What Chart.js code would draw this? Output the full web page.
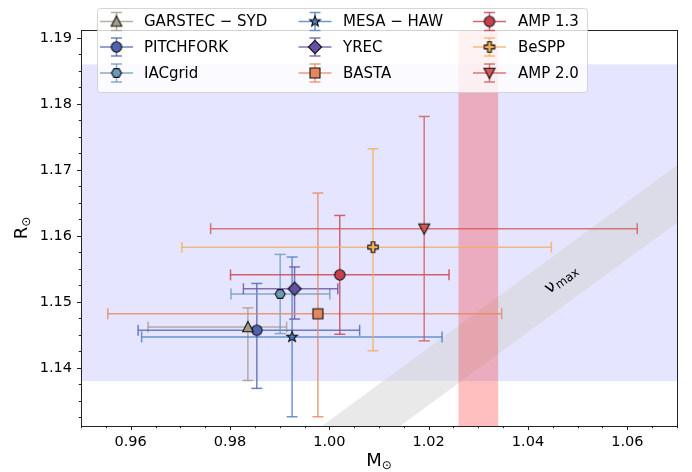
<!DOCTYPE html>
<html>
<head>
<meta charset="utf-8">
<script src="https://cdn.jsdelivr.net/npm/chart.js@4"></script>
<style>
  html, body { margin: 0; padding: 0; background: #fff; }
  canvas { display: block; }
</style>
</head>
<body>
<canvas id="chartMassRadius" width="692" height="472"></canvas>
<script>
// pipelines, in legend order (column by column)
const seriesNames = ["GARSTEC − SYD", "PITCHFORK", "IACgrid", "MESA − HAW", "YREC", "BASTA", "AMP 1.3", "BeSPP", "AMP 2.0"];
const massValues   = [0.9836, 0.9854, 0.9901, 0.9925, 0.9930, 0.9977, 1.0021, 1.0088, 1.0191];
const massErrLow   = [0.0201, 0.0239, 0.0099, 0.0303, 0.0103, 0.0423, 0.0220, 0.0385, 0.0430];
const massErrHigh  = [0.0078, 0.0207, 0.0100, 0.0302, 0.0087, 0.0370, 0.0220, 0.0359, 0.0429];
const radiusValues  = [1.1462, 1.1457, 1.1512, 1.1447, 1.1520, 1.1482, 1.1541, 1.1583, 1.1611];
const radiusErrLow  = [0.0081, 0.0088, 0.0060, 0.0121, 0.0046, 0.0156, 0.0090, 0.0157, 0.0170];
const radiusErrHigh = [0.0029, 0.0071, 0.0060, 0.0121, 0.0033, 0.0183, 0.0090, 0.0149, 0.0170];
const seriesColors = ["#a59c88", "#4f63b0", "#6c9aba", "#4a7cc2", "#6451a4", "#e6865c", "#c8404e", "#f2ad5c", "#d55656"];
const markerShapes = ["triangleUp", "circle", "hexagon", "star", "diamond", "square", "circle", "plus", "triangleDown"];

const xTickValues = [0.96, 0.98, 1.00, 1.02, 1.04, 1.06];
const yTickValues = [1.14, 1.15, 1.16, 1.17, 1.18, 1.19];
const massRange = [0.95, 1.07];
const radiusRange = [1.1312, 1.1912];

// constraint bands
const radiusBand = [1.138, 1.186];
const massBand = [1.026, 1.034];
const numaxBandMass = [0.95, 1.07];
const numaxBandUpper = [1.1044, 1.1707];
const numaxBandLower = [1.0957, 1.1620];

function rgba(hex, a) {
  const n = parseInt(hex.slice(1), 16);
  return `rgba(${n >> 16},${(n >> 8) & 255},${n & 255},${a})`;
}

function makeMarker(shape, fill) {
  const size = 18, c = 9;
  const cv = document.createElement("canvas");
  cv.width = size; cv.height = size;
  const g = cv.getContext("2d");
  g.beginPath();
  if (shape === "circle") {
    g.arc(c, c, 5.2, 0, Math.PI * 2);
  } else if (shape === "triangleUp") {
    g.moveTo(c, c - 5.5); g.lineTo(c + 5.3, c + 4.8); g.lineTo(c - 5.3, c + 4.8); g.closePath();
  } else if (shape === "triangleDown") {
    g.moveTo(c, c + 5.5); g.lineTo(c + 5.5, c - 4.8); g.lineTo(c - 5.5, c - 4.8); g.closePath();
  } else if (shape === "hexagon") {
    for (let k = 0; k < 6; k++) {
      const a = k * Math.PI / 3;
      g.lineTo(c + 5 * Math.cos(a), c + 5 * Math.sin(a));
    }
    g.closePath();
  } else if (shape === "star") {
    for (let k = 0; k < 10; k++) {
      const r = k % 2 ? 2.3 : 5.6;
      const a = -Math.PI / 2 + k * Math.PI / 5;
      g.lineTo(c + r * Math.cos(a), c + r * Math.sin(a));
    }
    g.closePath();
  } else if (shape === "diamond") {
    g.moveTo(c, c - 6.6); g.lineTo(c + 6.6, c); g.lineTo(c, c + 6.6); g.lineTo(c - 6.6, c); g.closePath();
  } else if (shape === "square") {
    g.rect(c - 5, c - 5, 10, 10);
  } else if (shape === "plus") {
    const L = 5.2, t = 1.9;
    g.moveTo(c - t, c - L); g.lineTo(c + t, c - L); g.lineTo(c + t, c - t); g.lineTo(c + L, c - t);
    g.lineTo(c + L, c + t); g.lineTo(c + t, c + t); g.lineTo(c + t, c + L); g.lineTo(c - t, c + L);
    g.lineTo(c - t, c + t); g.lineTo(c - L, c + t); g.lineTo(c - L, c - t); g.lineTo(c - t, c - t);
    g.closePath();
  }
  g.fillStyle = fill;
  g.fill();
  g.lineWidth = 1.1;
  g.strokeStyle = "#111";
  g.stroke();
  return cv;
}

const markers = seriesNames.map((_, i) => makeMarker(markerShapes[i], seriesColors[i]));

function line(ctx, x1, y1, x2, y2) {
  ctx.beginPath(); ctx.moveTo(x1, y1); ctx.lineTo(x2, y2); ctx.stroke();
}

// shaded constraints: radius band, nu_max band, mass band
const bandsPlugin = {
  id: "bands",
  beforeDatasetsDraw(chart) {
    const { ctx, chartArea: a, scales: { x, y } } = chart;
    ctx.save();
    ctx.beginPath(); ctx.rect(a.left, a.top, a.width, a.height); ctx.clip();

    ctx.fillStyle = "rgba(0,0,255,0.1)";
    const yt = y.getPixelForValue(radiusBand[1]), yb = y.getPixelForValue(radiusBand[0]);
    ctx.fillRect(a.left, yt, a.width, yb - yt);

    ctx.fillStyle = "rgba(211,211,211,0.5)";
    ctx.beginPath();
    ctx.moveTo(x.getPixelForValue(numaxBandMass[0]), y.getPixelForValue(numaxBandUpper[0]));
    ctx.lineTo(x.getPixelForValue(numaxBandMass[1]), y.getPixelForValue(numaxBandUpper[1]));
    ctx.lineTo(x.getPixelForValue(numaxBandMass[1]), y.getPixelForValue(numaxBandLower[1]));
    ctx.lineTo(x.getPixelForValue(numaxBandMass[0]), y.getPixelForValue(numaxBandLower[0]));
    ctx.closePath();
    ctx.fill();

    ctx.fillStyle = "rgba(255,0,0,0.25)";
    const xl = x.getPixelForValue(massBand[0]), xr = x.getPixelForValue(massBand[1]);
    ctx.fillRect(xl, a.top, xr - xl, a.height);

    // nu_max label along the band
    const x0 = x.getPixelForValue(numaxBandMass[0]), x1 = x.getPixelForValue(numaxBandMass[1]);
    const y0 = y.getPixelForValue(numaxBandUpper[0]), y1 = y.getPixelForValue(numaxBandUpper[1]);
    const ang = Math.atan2(y1 - y0, x1 - x0);
    const lm = 1.0466;
    const t = (lm - numaxBandMass[0]) / (numaxBandMass[1] - numaxBandMass[0]);
    const mid = (numaxBandUpper[0] + t * (numaxBandUpper[1] - numaxBandUpper[0]) +
                 numaxBandLower[0] + t * (numaxBandLower[1] - numaxBandLower[0])) / 2;
    ctx.translate(x.getPixelForValue(lm), y.getPixelForValue(mid));
    ctx.rotate(ang);
    ctx.fillStyle = "#000";
    ctx.textBaseline = "alphabetic";
    ctx.font = "17px 'DejaVu Sans'";
    const w1 = ctx.measureText("ν").width;
    ctx.font = "12px 'DejaVu Sans'";
    const w2 = ctx.measureText("max").width;
    const sx = -(w1 + w2) / 2;
    ctx.font = "17px 'DejaVu Sans'";
    ctx.fillText("ν", sx, 5);
    ctx.font = "12px 'DejaVu Sans'";
    ctx.fillText("max", sx + w1 + 1, 7);
    ctx.restore();
  }
};

const errorBarPlugin = {
  id: "errorBars",
  beforeDatasetsDraw(chart) {
    const { ctx, scales: { x, y } } = chart;
    const cap = 5.5;
    ctx.save();
    ctx.lineWidth = 1.5;
    seriesNames.forEach((_, i) => {
      const px = x.getPixelForValue(massValues[i]);
      const py = y.getPixelForValue(radiusValues[i]);
      const xl = x.getPixelForValue(massValues[i] - massErrLow[i]);
      const xr = x.getPixelForValue(massValues[i] + massErrHigh[i]);
      const yt = y.getPixelForValue(radiusValues[i] + radiusErrHigh[i]);
      const yb = y.getPixelForValue(radiusValues[i] - radiusErrLow[i]);
      ctx.strokeStyle = rgba(seriesColors[i], 0.8);
      line(ctx, xl, py, xr, py);
      line(ctx, xl, py - cap, xl, py + cap);
      line(ctx, xr, py - cap, xr, py + cap);
      line(ctx, px, yt, px, yb);
      line(ctx, px - cap, yt, px + cap, yt);
      line(ctx, px - cap, yb, px + cap, yb);
    });
    ctx.restore();
  }
};

// frame, tick marks, axis titles and legend
const framePlugin = {
  id: "frame",
  afterDraw(chart) {
    const { ctx, chartArea: a, scales: { x, y } } = chart;
    ctx.save();
    ctx.strokeStyle = "#222";
    ctx.lineWidth = 1;
    for (let v = massRange[0]; v <= massRange[1] + 1e-9; v += 0.005) {
      const p = Math.round(x.getPixelForValue(v)) + 0.5;
      const major = xTickValues.some(t => Math.abs(t - v) < 1e-6);
      line(ctx, p, a.bottom, p, a.bottom + (major ? 4 : 2.2));
    }
    for (let v = 1.1325; v <= radiusRange[1]; v += 0.0025) {
      const p = Math.round(y.getPixelForValue(v)) + 0.5;
      const major = yTickValues.some(t => Math.abs(t - v) < 1e-6);
      line(ctx, a.left, p, a.left - (major ? 4 : 2.2), p);
    }
    ctx.strokeStyle = "#222";
    ctx.strokeRect(Math.round(a.left) + 0.5, Math.round(a.top) + 0.5, Math.round(a.width), Math.round(a.height));

    // axis titles
    ctx.fillStyle = "#000";
    ctx.textBaseline = "alphabetic";
    ctx.font = "18px 'DejaVu Sans'";
    const mW = ctx.measureText("M").width;
    ctx.font = "12px 'DejaVu Sans'";
    const oW = ctx.measureText("⊙").width;
    const cx = (a.left + a.right) / 2;
    ctx.font = "18px 'DejaVu Sans'";
    ctx.fillText("M", cx - (mW + oW) / 2, 466);
    ctx.font = "12px 'DejaVu Sans'";
    ctx.fillText("⊙", cx - (mW + oW) / 2 + mW, 469);

    ctx.save();
    ctx.translate(27, (a.top + a.bottom) / 2);
    ctx.rotate(-Math.PI / 2);
    ctx.font = "18px 'DejaVu Sans'";
    const rW = ctx.measureText("R").width;
    ctx.fillText("R", -(rW + oW) / 2, 0);
    ctx.font = "12px 'DejaVu Sans'";
    ctx.fillText("⊙", -(rW + oW) / 2 + rW, 3);
    ctx.restore();

    // legend box
    const bx = 97, by = 8, bw = 490, bh = 84;
    ctx.beginPath();
    ctx.roundRect(bx + 0.5, by + 0.5, bw, bh, 3);
    ctx.fillStyle = "rgba(255,255,255,0.8)";
    ctx.fill();
    ctx.strokeStyle = "rgba(204,204,204,0.8)";
    ctx.stroke();

    const handleX = [116.5, 315, 489.5];
    const textX = [144, 343, 518];
    const rowY = [21.5, 47, 73];
    ctx.font = "15px 'DejaVu Sans'";
    ctx.textBaseline = "middle";
    seriesNames.forEach((name, i) => {
      const col = Math.floor(i / 3), row = i % 3;
      const hx = handleX[col], hy = rowY[row];
      ctx.lineWidth = 1.5;
      ctx.strokeStyle = rgba(seriesColors[i], 0.8);
      line(ctx, hx - 16.5, hy, hx + 16.5, hy);
      line(ctx, hx, hy - 9, hx, hy + 9);
      line(ctx, hx - 5.5, hy - 9, hx + 5.5, hy - 9);
      line(ctx, hx - 5.5, hy + 9, hx + 5.5, hy + 9);
      ctx.drawImage(markers[i], hx - 9, hy - 9);
      ctx.fillStyle = "#000";
      ctx.fillText(name, textX[col], hy + 1);
    });
    ctx.restore();
  }
};

new Chart(document.getElementById("chartMassRadius"), {
  type: "scatter",
  data: {
    datasets: seriesNames.map((name, i) => ({
      label: name,
      data: [{ x: massValues[i], y: radiusValues[i] }],
      pointStyle: markers[i],
      pointRadius: 6,
      pointHoverRadius: 6
    }))
  },
  options: {
    responsive: false,
    animation: false,
    events: [],
    layout: { padding: { top: 30, right: 15, left: 0, bottom: 0 } },
    plugins: { legend: { display: false }, tooltip: { enabled: false } },
    scales: {
      x: {
        type: "linear",
        min: massRange[0],
        max: massRange[1],
        grid: { display: false, drawTicks: false },
        border: { display: false },
        afterBuildTicks: s => { s.ticks = xTickValues.map(v => ({ value: v })); },
        afterFit: s => { s.height = 46; },
        ticks: {
          padding: 8, color: "#000", maxRotation: 0, autoSkip: false,
          font: { family: "DejaVu Sans", size: 14.5 },
          callback: v => v.toFixed(2)
        }
      },
      y: {
        type: "linear",
        min: radiusRange[0],
        max: radiusRange[1],
        grid: { display: false, drawTicks: false },
        border: { display: false },
        afterBuildTicks: s => { s.ticks = yTickValues.map(v => ({ value: v })); },
        afterFit: s => { s.width = 81; },
        ticks: {
          padding: 9, color: "#000", autoSkip: false,
          font: { family: "DejaVu Sans", size: 14.5 },
          callback: v => v.toFixed(2)
        }
      }
    }
  },
  plugins: [bandsPlugin, errorBarPlugin, framePlugin]
});
</script>
</body>
</html>
